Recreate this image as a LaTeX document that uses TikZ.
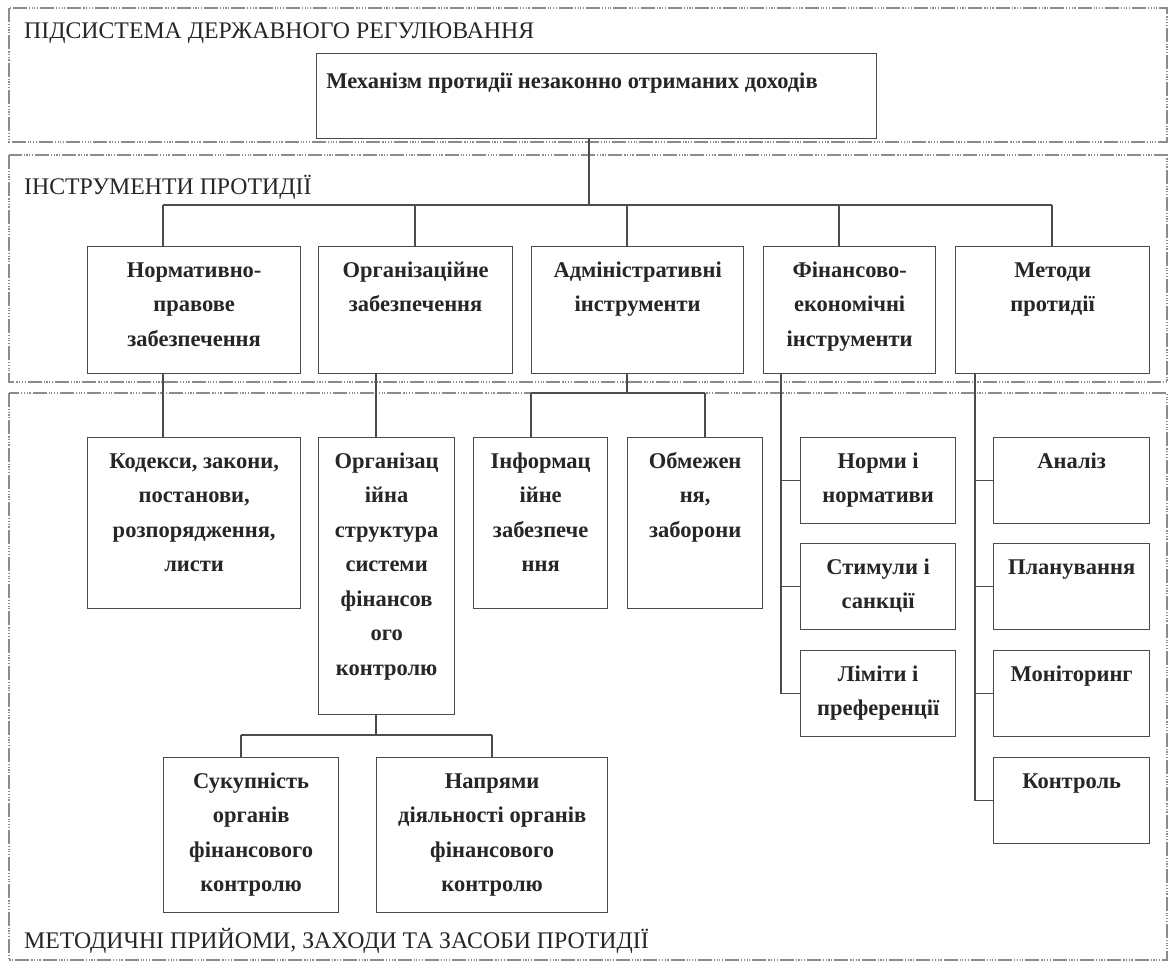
\documentclass[tikz,border=0pt]{standalone}
\usepackage{fontspec}
\setmainfont{Liberation Serif}
\newcommand\bx[6]{%
  \node[boxst, minimum width={(#4-#2)*1pt}, minimum height={(#5-#3)*1pt}] (#1) at (#2,#3) {};
  \node[lbl] (#1-t) at ([yshift=-15pt]#1.north) {\rule{0pt}{16pt}#6};}
\begin{document}
\begin{tikzpicture}[x=1pt,y=-1pt,
  region/.style={draw=black!45, line width=1.4pt, dash pattern=on 14pt off 2pt on 1.2pt off 1.5pt on 1.2pt off 1.5pt on 1.2pt off 1.5pt on 1.2pt off 2pt},
  boxst/.style={draw=black!70, line width=1.3pt, inner sep=0pt, anchor=north west},
  lbl/.style={font=\fontsize{22.5}{34.5}\selectfont\bfseries, align=center, inner sep=0pt, anchor=north, text=black!85},
  head/.style={font=\fontsize{23.8}{27}\selectfont, anchor=base west, inner sep=0pt, text=black!85},
  conn/.style={draw=black!70, line width=1.3pt}]
\useasboundingbox (0,0) rectangle (1168,970);
\fill[white] (0,0) rectangle (1168,970);
% regions
\draw[region] (9,8) rectangle (1167,142);
\draw[region] (9,155) rectangle (1167,382);
\draw[region] (9,393) rectangle (1167,960);
\node[head] (h1) at (24,38) {ПІДСИСТЕМА ДЕРЖАВНОГО РЕГУЛЮВАННЯ};
\node[head] (h2) at (24,194) {ІНСТРУМЕНТИ ПРОТИДІЇ};
\node[head] (h3) at (24,948) {МЕТОДИЧНІ ПРИЙОМИ, ЗАХОДИ ТА ЗАСОБИ ПРОТИДІЇ};
% top box
\node[boxst, minimum width=560pt, minimum height=85pt] (mech) at (316,53) {};
\node[lbl, anchor=base] (mech-t) at (572,88) {Механізм протидії незаконно отриманих доходів};
% row 1
\bx{b1}{87}{246}{300}{373}{Нормативно-\\правове\\забезпечення}
\bx{b2}{318}{246}{512}{373}{Організаційне\\забезпечення}
\bx{b3}{531}{246}{743}{373}{Адміністративні\\інструменти}
\bx{b4}{763}{246}{935}{373}{Фінансово-\\економічні\\інструменти}
\bx{b5}{955}{246}{1149}{373}{Методи\\протидії}
% row 2
\bx{kod}{87}{437}{300}{608}{Кодекси, закони,\\постанови,\\розпорядження,\\листи}
\bx{org}{318}{437}{454}{714}{Організац\\ійна\\структура\\системи\\фінансов\\ого\\контролю}
\bx{inf}{473}{437}{607}{608}{Інформац\\ійне\\забезпече\\ння}
\bx{obm}{627}{437}{762}{608}{Обмежен\\ня,\\заборони}
\bx{nor}{800}{437}{955}{523}{Норми і\\нормативи}
\bx{sti}{800}{543}{955}{629}{Стимули і\\санкції}
\bx{lim}{800}{650}{955}{736}{Ліміти і\\преференції}
\bx{ana}{993}{437}{1149}{523}{Аналіз}
\bx{pla}{993}{543}{1149}{629}{Планування}
\bx{mon}{993}{650}{1149}{736}{Моніторинг}
\bx{kon}{993}{757}{1149}{843}{Контроль}
\bx{suk}{163}{757}{338}{912}{Сукупність\\органів\\фінансового\\контролю}
\bx{nap}{376}{757}{607}{912}{Напрями\\діяльності органів\\фінансового\\контролю}
% connectors: top
\coordinate (j0) at (589,205);
\draw[conn] (j0 |- mech.south) -- (j0);
\coordinate (d1) at (163,205);
\coordinate (d2) at (415,205);
\coordinate (d3) at (627,205);
\coordinate (d4) at (839,205);
\coordinate (d5) at (1052,205);
\draw[conn] (d1) -- (d5);
\draw[conn] (d1) -- (d1 |- b1.north);
\draw[conn] (d2) -- (d2 |- b2.north);
\draw[conn] (d3) -- (d3 |- b3.north);
\draw[conn] (d4) -- (d4 |- b4.north);
\draw[conn] (d5) -- (d5 |- b5.north);
% row1 -> row2
\draw[conn] (d1 |- b1.south) -- (d1 |- kod.north);
\coordinate (e2) at (376,0);
\draw[conn] (e2 |- b2.south) -- (e2 |- org.north);
\coordinate (e3) at (627,393);
\coordinate (f1) at (531,393);
\coordinate (f2) at (705,393);
\draw[conn] (e3 |- b3.south) -- (e3);
\draw[conn] (f1) -- (f2);
\draw[conn] (f1) -- (f1 |- inf.north);
\draw[conn] (f2) -- (f2 |- obm.north);
\coordinate (s1) at (781,0);
\draw[conn] (s1 |- b4.south) -- (s1 |- lim.west);
\foreach \n in {nor,sti,lim} \draw[conn] (s1 |- \n.west) -- (\n.west);
\coordinate (s2) at (975,0);
\draw[conn] (s2 |- b5.south) -- (s2 |- kon.west);
\foreach \n in {ana,pla,mon,kon} \draw[conn] (s2 |- \n.west) -- (\n.west);
% org -> sub
\coordinate (g0) at (376,735);
\coordinate (g1) at (241,735);
\coordinate (g2) at (492,735);
\draw[conn] (g0 |- org.south) -- (g0);
\draw[conn] (g1) -- (g2);
\draw[conn] (g1) -- (g1 |- suk.north);
\draw[conn] (g2) -- (g2 |- nap.north);
\end{tikzpicture}
\end{document}
